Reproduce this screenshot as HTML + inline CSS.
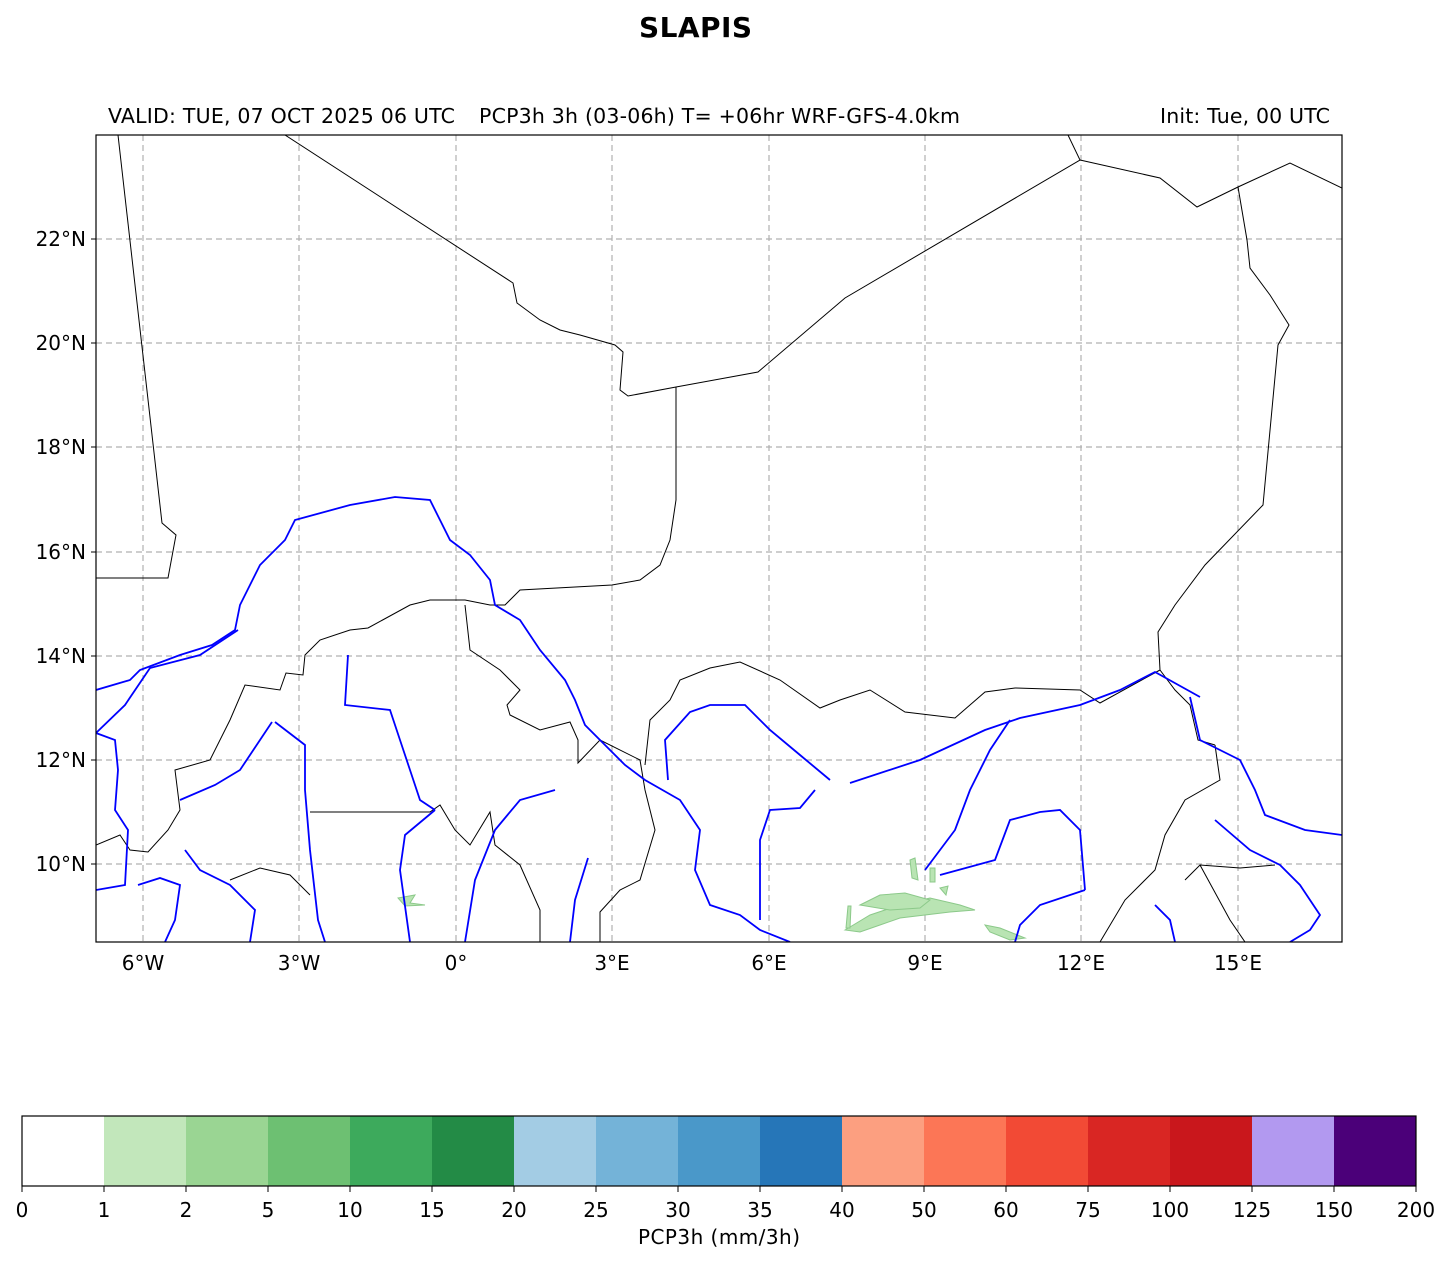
<!DOCTYPE html>
<html><head><meta charset="utf-8"><style>body{margin:0;background:#fff}svg{display:block}text{font-family:"DejaVu Sans","Liberation Sans",sans-serif}</style></head><body>
<svg width="1451" height="1264" viewBox="0 0 1451 1264">
<text x="639" y="37" font-size="28" font-weight="bold" textLength="113">SLAPIS</text>
<text x="108" y="123" font-size="20.5" textLength="347">VALID: TUE, 07 OCT 2025 06 UTC</text>
<text x="479" y="123" font-size="20.5" textLength="481">PCP3h 3h (03-06h) T= +06hr WRF-GFS-4.0km</text>
<text x="1160" y="123" font-size="20.5" textLength="170">Init: Tue, 00 UTC</text>
<defs><clipPath id="c"><rect x="96" y="135" width="1246" height="807"/></clipPath></defs>
<g clip-path="url(#c)">
<g stroke="#b0b0b0" stroke-dasharray="6,4" stroke-width="1.2">
<line x1="143" y1="135" x2="143" y2="942"/><line x1="299" y1="135" x2="299" y2="942"/><line x1="456" y1="135" x2="456" y2="942"/><line x1="612" y1="135" x2="612" y2="942"/><line x1="769" y1="135" x2="769" y2="942"/><line x1="925" y1="135" x2="925" y2="942"/><line x1="1081" y1="135" x2="1081" y2="942"/><line x1="1238" y1="135" x2="1238" y2="942"/>
<line x1="96" y1="239" x2="1342" y2="239"/><line x1="96" y1="343" x2="1342" y2="343"/><line x1="96" y1="447" x2="1342" y2="447"/><line x1="96" y1="552" x2="1342" y2="552"/><line x1="96" y1="656" x2="1342" y2="656"/><line x1="96" y1="760" x2="1342" y2="760"/><line x1="96" y1="864" x2="1342" y2="864"/>
</g>
<g fill="#b9e4b3" stroke="#8cc98a" stroke-width="1">
<path d="M845 930 L870 915 L900 905 L930 898 L960 905 L975 910 L950 912 L925 915 L900 918 L880 925 L860 932 Z"/>
<path d="M860 905 L880 895 L905 893 L930 900 L920 908 L890 910 Z"/>
<path d="M985 925 L1000 928 L1025 938 L1010 940 L990 932 Z"/>
<path d="M398 898 L415 895 L410 903 L425 905 L405 906 Z"/>
<path d="M910 860 L915 858 L918 880 L912 878 Z"/><path d="M930 868 L935 868 L935 882 L930 882 Z"/><path d="M940 888 L948 886 L946 895 Z"/><path d="M848 906 L851 906 L850 928 L846 928 Z"/>
</g>
<g fill="none" stroke="#000" stroke-width="1">
<polyline points="118,135 162,523 176,535 168,578 96,578"/>
<polyline points="285,135 513,283 517,303 540,320 560,330 580,335 615,345 623,352 620,390 628,396 676,387 758,372 845,298 1080,160 1068,135"/>
<polyline points="1080,160 1160,178 1197,207 1238,187 1290,163 1342,188"/>
<polyline points="1238,187 1247,240 1250,268 1270,295 1289,325 1278,345 1263,505 1205,565 1175,605 1158,632 1160,670 1175,690 1190,705 1198,740 1215,745"/>
<polyline points="676,387 676,500 670,540 660,565 640,580 612,585 520,590 505,605 490,605 465,600 430,600 410,605 368,628 350,630 320,640 305,655 303,675 286,673 280,690 245,685 230,720 210,760 175,770 180,810 168,830 148,852 130,850 120,835 96,845"/>
<polyline points="465,605 470,650 500,670 520,690 507,705 510,715 540,730 570,722 578,740 578,763 600,740 640,760 645,790 655,830 640,880 620,890 600,912 600,942"/>
<polyline points="645,765 650,720 670,700 680,680 710,668 740,662 780,680 820,708 840,700 870,690 905,712 955,718 985,692 1015,688 1080,690 1100,703 1160,670"/>
<polyline points="310,812 430,812 440,805 455,830 470,845 490,812 495,845 520,865 540,910 540,942"/>
<polyline points="230,880 260,868 290,875 310,895"/>
<polyline points="1215,745 1220,780 1185,800 1165,835 1155,870 1125,900 1100,942"/>
<polyline points="1185,880 1200,865 1240,868 1275,865"/>
<polyline points="1200,865 1230,920 1245,942"/>
</g>
<g fill="none" stroke="#0000ff" stroke-width="1.8">
<polyline points="96,690 130,680 140,670 180,655 212,645 235,630 240,605 250,585 260,565 285,540 295,520 350,505 395,497 430,500 440,520 450,540 470,555 490,580 495,605 520,620 540,650 565,680 575,700 585,725 600,740 625,765 645,780 680,800 700,830 695,870 710,905 740,915 760,930 790,942"/>
<polyline points="1200,697 1155,672 1120,690 1080,705 1020,718 985,730 920,760 850,783"/>
<polyline points="96,733 115,740 118,770 115,810 128,830 125,885 96,890"/>
<polyline points="348,655 345,705 390,710 400,740 410,770 420,800 435,810"/>
<polyline points="238,630 200,655 150,668 125,705 96,733"/>
<polyline points="272,722 240,770 215,785 180,800"/>
<polyline points="275,722 305,745 305,790 310,850 318,920 325,942"/>
<polyline points="435,810 405,835 400,870 410,942"/>
<polyline points="555,790 520,800 495,830 475,880 465,942"/>
<polyline points="588,858 575,900 570,942"/>
<polyline points="668,780 665,740 690,712 710,705 745,705 770,730 800,755 830,780"/>
<polyline points="815,790 800,808 770,810 760,840 760,920"/>
<polyline points="1010,720 990,750 970,790 955,830 925,870"/>
<polyline points="1085,890 1080,830 1060,810 1040,812 1010,820 995,860 940,875"/>
<polyline points="1190,697 1200,740 1240,760 1255,790 1265,815 1305,830 1342,835"/>
<polyline points="1155,905 1170,920 1175,942"/>
<polyline points="1215,820 1250,850 1280,865 1300,885 1320,915 1310,930 1290,942"/>
<polyline points="1085,890 1040,905 1020,925 1015,942"/>
<polyline points="138,885 160,878 180,885 175,920 165,942"/>
<polyline points="185,850 200,870 230,885 255,910 250,942"/>
</g>
</g>
<rect x="96" y="135" width="1246" height="807" fill="none" stroke="#000" stroke-width="1.2"/>
<g stroke="#000"><line x1="96" y1="239" x2="91" y2="239"/><line x1="96" y1="343" x2="91" y2="343"/><line x1="96" y1="447" x2="91" y2="447"/><line x1="96" y1="552" x2="91" y2="552"/><line x1="96" y1="656" x2="91" y2="656"/><line x1="96" y1="760" x2="91" y2="760"/><line x1="96" y1="864" x2="91" y2="864"/></g>
<g font-size="20" text-anchor="end">
<text x="86" y="246">22°N</text><text x="86" y="350">20°N</text><text x="86" y="454">18°N</text><text x="86" y="559">16°N</text><text x="86" y="663">14°N</text><text x="86" y="767">12°N</text><text x="86" y="871">10°N</text></g>
<g font-size="20" text-anchor="middle">
<text x="143" y="970">6°W</text><text x="299" y="970">3°W</text><text x="456" y="970">0°</text><text x="612" y="970">3°E</text><text x="769" y="970">6°E</text><text x="925" y="970">9°E</text><text x="1081" y="970">12°E</text><text x="1238" y="970">15°E</text></g>
<g>
<rect x="22" y="1116" width="82" height="70" fill="#ffffff"/>
<rect x="104" y="1116" width="82" height="70" fill="#c2e7bb"/>
<rect x="186" y="1116" width="82" height="70" fill="#9ad593"/>
<rect x="268" y="1116" width="82" height="70" fill="#6dc072"/>
<rect x="350" y="1116" width="82" height="70" fill="#3daa5c"/>
<rect x="432" y="1116" width="82" height="70" fill="#238b46"/>
<rect x="514" y="1116" width="82" height="70" fill="#a3cce4"/>
<rect x="596" y="1116" width="82" height="70" fill="#74b3d8"/>
<rect x="678" y="1116" width="82" height="70" fill="#4a98c9"/>
<rect x="760" y="1116" width="82" height="70" fill="#2676b8"/>
<rect x="842" y="1116" width="82" height="70" fill="#fc9f80"/>
<rect x="924" y="1116" width="82" height="70" fill="#fc7656"/>
<rect x="1006" y="1116" width="82" height="70" fill="#f24a35"/>
<rect x="1088" y="1116" width="82" height="70" fill="#d92623"/>
<rect x="1170" y="1116" width="82" height="70" fill="#c9171c"/>
<rect x="1252" y="1116" width="82" height="70" fill="#b299f0"/>
<rect x="1334" y="1116" width="82" height="70" fill="#4b0079"/>
<rect x="22" y="1116" width="1394" height="70" fill="none" stroke="#000" stroke-width="1.2"/>
</g>
<g font-size="20" text-anchor="middle">
<text x="22" y="1217">0</text><text x="104" y="1217">1</text><text x="186" y="1217">2</text><text x="268" y="1217">5</text><text x="350" y="1217">10</text><text x="432" y="1217">15</text><text x="514" y="1217">20</text><text x="596" y="1217">25</text><text x="678" y="1217">30</text><text x="760" y="1217">35</text><text x="842" y="1217">40</text><text x="924" y="1217">50</text><text x="1006" y="1217">60</text><text x="1088" y="1217">75</text><text x="1170" y="1217">100</text><text x="1252" y="1217">125</text><text x="1334" y="1217">150</text><text x="1416" y="1217">200</text>
<text x="719" y="1244" textLength="162">PCP3h (mm/3h)</text></g>
<g stroke="#000"><line x1="22" y1="1186" x2="22" y2="1192"/><line x1="104" y1="1186" x2="104" y2="1192"/><line x1="186" y1="1186" x2="186" y2="1192"/><line x1="268" y1="1186" x2="268" y2="1192"/><line x1="350" y1="1186" x2="350" y2="1192"/><line x1="432" y1="1186" x2="432" y2="1192"/><line x1="514" y1="1186" x2="514" y2="1192"/><line x1="596" y1="1186" x2="596" y2="1192"/><line x1="678" y1="1186" x2="678" y2="1192"/><line x1="760" y1="1186" x2="760" y2="1192"/><line x1="842" y1="1186" x2="842" y2="1192"/><line x1="924" y1="1186" x2="924" y2="1192"/><line x1="1006" y1="1186" x2="1006" y2="1192"/><line x1="1088" y1="1186" x2="1088" y2="1192"/><line x1="1170" y1="1186" x2="1170" y2="1192"/><line x1="1252" y1="1186" x2="1252" y2="1192"/><line x1="1334" y1="1186" x2="1334" y2="1192"/><line x1="1416" y1="1186" x2="1416" y2="1192"/></g>
</svg>
</body></html>
